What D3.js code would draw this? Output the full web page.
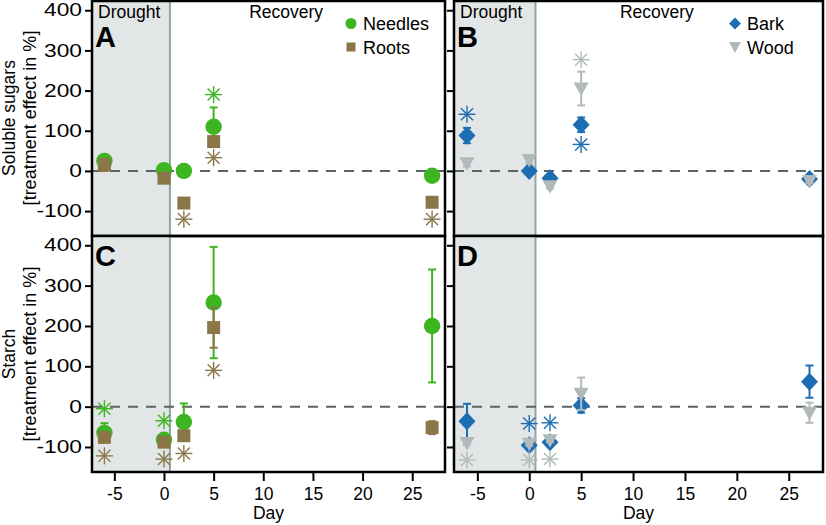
<!DOCTYPE html>
<html><head><meta charset="utf-8">
<script src="https://cdn.jsdelivr.net/npm/d3@7"></script>
<style>
html,body{margin:0;padding:0;background:#fff;}
svg{display:block;font-family:"Liberation Sans",Arial,sans-serif;}
</style>
</head><body>
<svg id="chart" width="826" height="525"></svg>
<script>
// ---------- data ----------
const days = [-6, 0, 2, 5, 27];
const xTicks = [-5, 0, 5, 10, 15, 20, 25];
const yTicks = [-100, 0, 100, 200, 300, 400];

// Soluble sugars
const sugarNeedlesMean = [25, 2, 0, 110, -12];
const sugarNeedlesSE   = [4, 3, 3, 48, 3];
const sugarRootsMean   = [15, -18, -80, 73, -78];
const sugarRootsSE     = [15, 12, 3, 10, 3];
const sugarBarkMean    = [88, 0, -18, 115, -20];
const sugarBarkSE      = [19, 4, 6, 18, 5];
const sugarWoodMean    = [19, 27, -38, 205, -25];
const sugarWoodSE      = [8, 8, 6, 42, 5];
// significance asterisks [day, value]
const sugarNeedlesSig = [[5, 190]];
const sugarRootsSig   = [[2, -120], [5, 33], [27, -120]];
const sugarBarkSig    = [[-6, 141], [5, 66]];
const sugarWoodSig    = [[5, 277]];

// Starch
const starchNeedlesMean = [-65, -82, -38, 258, 200];
const starchNeedlesSE   = [24, 4, 46, 138, 140];
const starchRootsMean   = [-76, -88, -72, 196, -52];
const starchRootsSE     = [5, 5, 8, 50, 16];
const starchBarkMean    = [-36, -96, -88, 3, 62];
const starchBarkSE      = [43, 5, 5, 18, 40];
const starchWoodMean    = [-90, -92, -83, 32, -15];
const starchWoodSE      = [5, 5, 5, 40, 25];
const starchNeedlesSig = [[-6, -5], [0, -35]];
const starchRootsSig   = [[-6, -122], [0, -130], [2, -116], [5, 90]];
const starchBarkSig    = [[0, -42], [2, -40]];
const starchWoodSig    = [[-6, -132], [0, -132], [2, -130]];

const droughtEnd = 0.6;

// ---------- styles ----------
const C = {
  needles: "#3cb521", roots: "#8b7648", bark: "#1d6db2", wood: "#b1baba",
  shade: "#e2e6e6", vline: "#8fa7a3", zero: "#5b6363"
};

const svg = d3.select("#chart");
const xDomain = [-7.25, 28.3];
const yDomain = [-162, 423];

const panels = [
  {id:"A", x0:92,  x1:445, y0:1,   y1:236, letterY:47,  top:true,  left:true,  bottom:false, legend:"nr",
   series:[["needles",sugarNeedlesMean,sugarNeedlesSE],["roots",sugarRootsMean,sugarRootsSE]],
   sig:[["needles",sugarNeedlesSig],["roots",sugarRootsSig]]},
  {id:"B", x0:454, x1:823, y0:1,   y1:236, letterY:47,  top:true,  left:false, bottom:false, legend:"bw",
   series:[["bark",sugarBarkMean,sugarBarkSE],["wood",sugarWoodMean,sugarWoodSE]],
   sig:[["bark",sugarBarkSig],["wood",sugarWoodSig]]},
  {id:"C", x0:92,  x1:445, y0:236, y1:472, letterY:266, top:false, left:true,  bottom:true,
   series:[["needles",starchNeedlesMean,starchNeedlesSE],["roots",starchRootsMean,starchRootsSE]],
   sig:[["needles",starchNeedlesSig],["roots",starchRootsSig]]},
  {id:"D", x0:454, x1:823, y0:236, y1:472, letterY:266, top:false, left:false, bottom:true,
   series:[["bark",starchBarkMean,starchBarkSE],["wood",starchWoodMean,starchWoodSE]],
   sig:[["bark",starchBarkSig],["wood",starchWoodSig]]}
];

function markerPath(kind){
  if(kind==="needles"){ return d3.symbol(d3.symbolCircle, Math.PI*8.2*8.2)(); }
  if(kind==="roots"){ return "M-6.5,-6.5H6.5V6.5H-6.5Z"; }
  if(kind==="bark"){ return "M0,-9L8.5,0L0,9L-8.5,0Z"; }
  if(kind==="wood"){ return "M-7.5,-6L7.5,-6L0,7.5Z"; }
}
function legendPath(kind){
  if(kind==="needles"){ return d3.symbol(d3.symbolCircle, Math.PI*5.5*5.5)(); }
  if(kind==="roots"){ return "M-4.5,-4.5H4.5V4.5H-4.5Z"; }
  if(kind==="bark"){ return "M0,-6L6,0L0,6L-6,0Z"; }
  if(kind==="wood"){ return "M-6,-5L6,-5L0,6Z"; }
}
function asterisk(g, cx, cy, color){
  const r = 8.5;
  for(let k=0;k<4;k++){
    const a = k*Math.PI/4;
    g.append("line")
      .attr("x1", cx - r*Math.cos(a)).attr("y1", cy - r*Math.sin(a))
      .attr("x2", cx + r*Math.cos(a)).attr("y2", cy + r*Math.sin(a))
      .attr("stroke", color).attr("stroke-width", 1.4);
  }
}
const fmt = d => String(d);

panels.forEach(p => {
  const x = d3.scaleLinear().domain(xDomain).range([p.x0, p.x1]);
  const y = d3.scaleLinear().domain(yDomain).range([p.y1, p.y0]);
  const g = svg.append("g");

  // drought shading
  g.append("rect").attr("x", p.x0).attr("y", p.y0)
    .attr("width", x(droughtEnd)-p.x0).attr("height", p.y1-p.y0)
    .attr("fill", C.shade);
  g.append("line").attr("x1", x(droughtEnd)).attr("x2", x(droughtEnd))
    .attr("y1", p.y0).attr("y2", p.y1)
    .attr("stroke", C.vline).attr("stroke-width", 2);

  // zero line
  g.append("line").attr("x1", p.x0).attr("x2", p.x1)
    .attr("y1", y(0)).attr("y2", y(0))
    .attr("stroke", C.zero).attr("stroke-width", 2)
    .attr("stroke-dasharray", "10,8");

  // series
  p.series.forEach(([kind, mean, se]) => {
    const col = C[kind];
    const sg = g.append("g");
    days.forEach((d, i) => {
      const cx = x(d), hi = y(mean[i]+se[i]), lo = y(mean[i]-se[i]);
      sg.append("line").attr("x1", cx).attr("x2", cx).attr("y1", hi).attr("y2", lo)
        .attr("stroke", col).attr("stroke-width", 2);
      [hi, lo].forEach(yy => sg.append("line")
        .attr("x1", cx-4).attr("x2", cx+4).attr("y1", yy).attr("y2", yy)
        .attr("stroke", col).attr("stroke-width", 2));
      sg.append("path").attr("d", markerPath(kind))
        .attr("transform", `translate(${cx},${y(mean[i])})`)
        .attr("fill", col);
    });
  });

  // asterisks
  p.sig.forEach(([kind, pts]) => {
    pts.forEach(([d, v]) => asterisk(g, x(d), y(v), C[kind]));
  });

  // axes
  const yAxis = d3.axisLeft(y).tickValues(yTicks).tickSize(7).tickPadding(3)
    .tickFormat(p.left ? fmt : "");
  const ya = g.append("g").attr("transform", `translate(${p.x0},0)`).call(yAxis);
  ya.select(".domain").remove();
  ya.selectAll("line").attr("stroke", "#000").attr("stroke-width", 2);
  ya.selectAll("text").attr("font-size", 17.5).attr("fill", "#000")
    .attr("font-family", "'Liberation Sans',Arial,sans-serif")
    .attr("x", 0)
    .attr("transform", "translate(-10,0) scale(1.3,1)");

  if(p.bottom){
    const xAxis = d3.axisBottom(x).tickValues(xTicks).tickSize(9).tickPadding(7)
      .tickFormat(fmt);
    const xa = g.append("g").attr("transform", `translate(0,${p.y1})`).call(xAxis);
    xa.select(".domain").remove();
    xa.selectAll("line").attr("stroke", "#000").attr("stroke-width", 2);
    xa.selectAll("text").attr("font-size", 17.5).attr("fill", "#000")
      .attr("font-family", "'Liberation Sans',Arial,sans-serif");
    g.append("text").attr("x", (p.x0+p.x1)/2).attr("y", 519)
      .attr("text-anchor", "middle").attr("font-size", 17.5).text("Day");
  }

  // panel letter
  g.append("text").attr("x", p.x0+3).attr("y", p.letterY)
    .attr("font-size", 29).attr("font-weight", "bold").text(p.id);

  if(p.top){
    g.append("text").attr("x", p.x0+6).attr("y", 18).attr("font-size", 17.5).text("Drought");
    g.append("text").attr("x", x(12.3)).attr("y", 18).attr("text-anchor", "middle")
      .attr("font-size", 17.5).text("Recovery");
  }

  // legend
  if(p.legend){
    const items = p.legend === "nr" ? [["needles","Needles"],["roots","Roots"]] : [["bark","Bark"],["wood","Wood"]];
    const lx = p.legend === "nr" ? 351 : 735;
    items.forEach(([kind, label], i) => {
      const ly = 23.5 + i*23.5;
      g.append("path").attr("d", legendPath(kind))
        .attr("transform", `translate(${lx},${ly})`).attr("fill", C[kind]);
      g.append("text").attr("x", lx+12).attr("y", ly+6.5).attr("font-size", 18).text(label);
    });
  }

  // frame
  g.append("rect").attr("x", p.x0).attr("y", p.y0)
    .attr("width", p.x1-p.x0).attr("height", p.y1-p.y0)
    .attr("fill", "none").attr("stroke", "#000").attr("stroke-width", 2.5);
});

// y-axis titles
function yTitle(cy, main){
  svg.append("text").attr("transform", `translate(15,${cy}) rotate(-90)`)
    .attr("text-anchor", "middle").attr("font-size", 17.5).text(main);
  svg.append("text").attr("transform", `translate(36,${cy}) rotate(-90)`)
    .attr("text-anchor", "middle").attr("font-size", 18).text("[treatment effect in %]");
}
yTitle(118, "Soluble sugars");
yTitle(354, "Starch");
</script>
</body></html>
